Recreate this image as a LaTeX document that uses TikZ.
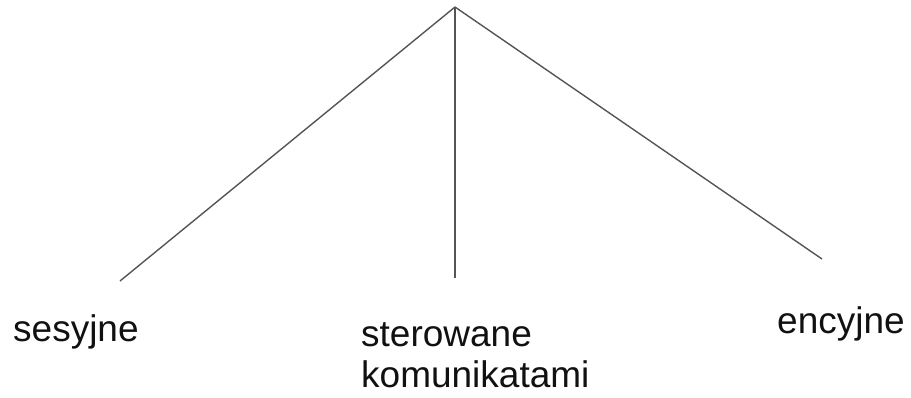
\documentclass[tikz,border=0pt]{standalone}
\usepackage{fontspec}
\setmainfont{Liberation Sans}
\definecolor{linegray}{HTML}{555555}
\definecolor{textgray}{HTML}{111111}
\begin{document}
\begin{tikzpicture}[x=1bp,y=-1bp,
  branch/.style={draw=linegray,line width=1.4bp},
  label/.style={inner sep=0pt,anchor=base west,text=textgray,
    font=\fontsize{37bp}{41bp}\selectfont,align=left}]
\useasboundingbox (0,0) rectangle (911,397);
\coordinate (apex) at (455,7);
\coordinate (leftend) at (120,281);
\coordinate (midend) at (455,278);
\coordinate (rightend) at (822,259);
\draw[branch] (apex) -- (leftend);
\draw[branch] (apex) -- (midend);
\draw[branch] (apex) -- (rightend);
\node[label] (ses) at (13,341) {sesyjne};
\node[label] (ster) at (361,387) {sterowane\\komunikatami};
\node[label] (enc) at (777,333) {encyjne};
\end{tikzpicture}
\end{document}
